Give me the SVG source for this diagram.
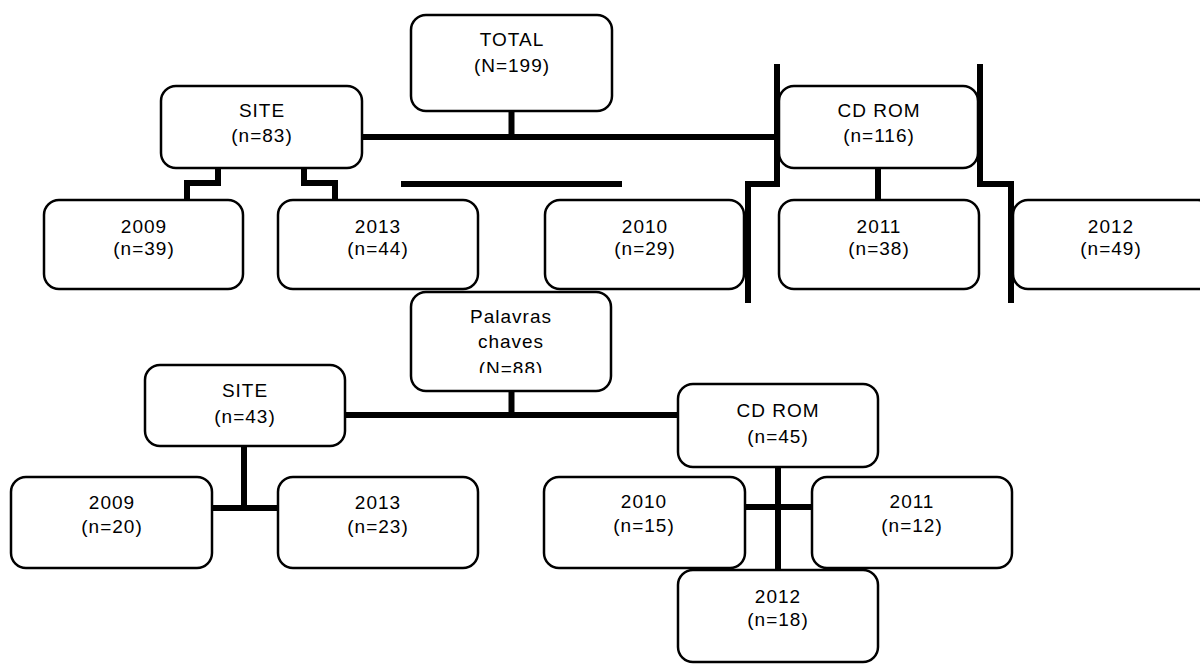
<svg xmlns="http://www.w3.org/2000/svg" width="1200" height="666" viewBox="0 0 1200 666">
<style>
.box{fill:#fff;stroke:#000;stroke-width:2.5}
.t{font-family:"Liberation Sans",Arial,sans-serif;font-size:19px;letter-spacing:1px;text-anchor:middle;fill:#000}
.c{fill:none;stroke:#000;stroke-width:6;stroke-linejoin:miter}
</style>
<defs>
<clipPath id="clipPal"><rect x="411" y="292" width="201" height="81"/></clipPath>
</defs>
<rect width="1200" height="666" fill="#fff"/>
<g id="connectors">
<path class="c" d="M511.5 111V137"/>
<path class="c" d="M362 137H777"/>
<path class="c" d="M777 64V184H748V303"/>
<path class="c" d="M980 64V184H1011V303"/>
<path class="c" d="M878 168V200"/>
<path class="c" d="M401 184H622"/>
<path class="c" d="M218 168V183H187V200"/>
<path class="c" d="M304 168V183H335V200"/>
<path class="c" d="M511.5 391V415"/>
<path class="c" d="M345 415H678"/>
<path class="c" d="M244 446V511"/>
<path class="c" d="M212 508H278"/>
<path class="c" d="M778 467V570"/>
<path class="c" d="M745 507H812"/>
</g>
<g id="total"><rect class="box" x="411" y="15" width="201" height="96" rx="15"/><text class="t" x="512" y="46">TOTAL</text><text class="t" x="512" y="72">(N=199)</text></g>
<g id="site1"><rect class="box" x="161" y="86" width="201" height="82" rx="15"/><text class="t" x="262" y="117">SITE</text><text class="t" x="262" y="142">(n=83)</text></g>
<g id="cdrom1"><rect class="box" x="779" y="86" width="199" height="82" rx="15"/><text class="t" x="879" y="117">CD ROM</text><text class="t" x="879" y="142">(n=116)</text></g>
<g id="y2009a"><rect class="box" x="44" y="200" width="199" height="89" rx="15"/><text class="t" x="144" y="233">2009</text><text class="t" x="144" y="255">(n=39)</text></g>
<g id="y2013a"><rect class="box" x="278" y="200" width="200" height="89" rx="15"/><text class="t" x="378" y="233">2013</text><text class="t" x="378" y="255">(n=44)</text></g>
<g id="y2010a"><rect class="box" x="545" y="200" width="199" height="89" rx="15"/><text class="t" x="645" y="233">2010</text><text class="t" x="645" y="255">(n=29)</text></g>
<g id="y2011a"><rect class="box" x="779" y="200" width="200" height="89" rx="15"/><text class="t" x="879" y="233">2011</text><text class="t" x="879" y="255">(n=38)</text></g>
<g id="y2012a"><rect class="box" x="1013" y="200" width="200" height="89" rx="15"/><text class="t" x="1111" y="233">2012</text><text class="t" x="1111" y="255">(n=49)</text></g>
<g id="palavras"><rect class="box" x="411" y="292" width="200" height="99" rx="15"/><text class="t" x="511" y="323">Palavras</text><text class="t" x="511" y="348">chaves</text><text class="t" x="511" y="375" clip-path="url(#clipPal)">(N=88)</text></g>
<g id="site2"><rect class="box" x="145" y="365" width="200" height="81" rx="15"/><text class="t" x="245" y="397">SITE</text><text class="t" x="245" y="423">(n=43)</text></g>
<g id="cdrom2"><rect class="box" x="678" y="384" width="200" height="83" rx="15"/><text class="t" x="778" y="417">CD ROM</text><text class="t" x="778" y="443">(n=45)</text></g>
<g id="y2009b"><rect class="box" x="11" y="477" width="201" height="91" rx="15"/><text class="t" x="112" y="509">2009</text><text class="t" x="112" y="533">(n=20)</text></g>
<g id="y2013b"><rect class="box" x="278" y="477" width="200" height="91" rx="15"/><text class="t" x="378" y="509">2013</text><text class="t" x="378" y="533">(n=23)</text></g>
<g id="y2010b"><rect class="box" x="544" y="477" width="201" height="91" rx="15"/><text class="t" x="644" y="508">2010</text><text class="t" x="644" y="532">(n=15)</text></g>
<g id="y2011b"><rect class="box" x="812" y="477" width="200" height="91" rx="15"/><text class="t" x="912" y="508">2011</text><text class="t" x="912" y="532">(n=12)</text></g>
<g id="y2012b"><rect class="box" x="678" y="570" width="200" height="92" rx="15"/><text class="t" x="778" y="603">2012</text><text class="t" x="778" y="626">(n=18)</text></g>
</svg>
